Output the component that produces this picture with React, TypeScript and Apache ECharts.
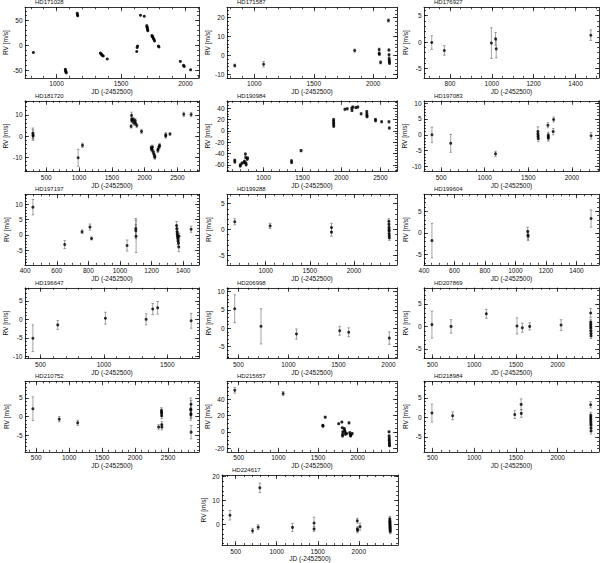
import React, { useEffect, useRef } from "react";
import * as echarts from "echarts";

// ---------- titles ----------
const TITLES = [
  "HD171028", "HD171587", "HD176927",
  "HD181720", "HD190984", "HD197083",
  "HD197197", "HD199288", "HD199604",
  "HD196647", "HD206998", "HD207869",
  "HD210752", "HD215657", "HD218984",
  "HD224617",
];

// ---------- data: [JD-2452500, RV (m/s), error (m/s)] ----------
const hd171028 = [
  [820, -14, 1], [1068, -48, 1], [1070, -51, 1], [1072, -53, 1], [1075, -55, 1],
  [1160, 65, 1], [1162, 62, 1], [1164, 60, 1], [1340, -15, 1], [1345, -17, 1],
  [1350, -18, 1], [1355, -20, 1], [1362, -21, 1], [1393, -27, 1], [1622, -12, 1],
  [1625, -4, 1], [1628, -1, 1], [1651, 61, 1], [1680, 59, 1], [1700, 40, 1],
  [1702, 37, 1], [1704, 35, 1], [1706, 32, 1], [1708, 30, 1], [1740, 20, 1],
  [1743, 18, 1], [1746, 17, 1], [1752, 14, 1], [1756, 12, 1], [1760, 9, 1],
  [1790, -1, 1], [1794, -3, 1], [1960, -32, 1], [1985, -40, 1], [1990, -42, 1],
  [2040, -49, 1],
];
const hd171587 = [
  [835, -5.5, 0.8], [1078, -4.8, 1.5], [1844, 2.5, 0.8], [2050, 3, 0.8], [2050, 1, 0.6],
  [2052, 0.5, 0.6], [2062, -3.8, 0.8], [2128, 18.5, 0.8], [2132, 2.8, 0.6], [2133, 0.2, 0.6],
  [2134, -1.8, 0.6], [2135, -2.8, 0.6], [2136, -3.5, 0.6], [2137, -4.3, 0.6],
];
const hd176927 = [
  [713, -0.1, 1.3], [773, -1.6, 0.9], [998, -0.2, 2.9], [1018, 0.6, 1.2], [1021, -1.3, 1.7],
  [1473, 1.3, 1.0],
];
const hd181720 = [
  [296, 1.3, 2.5], [298, 0.5, 2.5], [300, 0, 1.5], [986, -10.3, 4], [1052, -4.4, 1],
  [1793, 4.6, 0.8], [1800, 9.8, 1.5], [1802, 7.5, 1], [1806, 8, 1], [1814, 7.2, 1],
  [1830, 7.7, 1], [1836, 6.2, 1], [1855, 7.3, 1], [1860, 6, 1], [1880, 5, 1],
  [1952, 2.2, 1], [2100, -5.5, 1], [2105, -6, 1], [2110, -6.5, 1], [2120, -5.3, 1],
  [2131, -7.5, 1], [2140, -8.5, 1], [2151, -9.4, 1], [2155, -10, 1], [2200, -6.8, 1],
  [2207, -6, 1], [2222, -5, 1], [2228, -4.5, 1], [2320, 0, 1], [2322, 0.6, 1],
  [2386, 1, 0.6], [2596, 10.3, 1], [2708, 10.2, 1],
];
const hd190984 = [
  [629, -52, 2], [631, -55, 2], [700, -62, 2], [703, -60, 2], [723, -57, 2],
  [750, -56, 2], [753, -54, 2], [766, -41, 2], [770, -47, 2], [773, -57, 2],
  [776, -60, 2], [790, -50, 2], [795, -48, 2], [1358, -53, 2], [1360, -56, 2],
  [1481, -35, 2], [1899, 20, 2], [1899, 17, 2], [1900, 14, 2], [1900, 11, 2],
  [1901, 8, 2], [2044, 38, 2], [2074, 39, 2], [2133, 40, 2], [2135, 36, 2],
  [2146, 42, 2], [2184, 41, 2], [2210, 42, 2], [2252, 30, 2], [2325, 34, 2],
  [2326, 30, 2], [2327, 27, 2], [2328, 25, 2], [2436, 20, 2], [2438, 18, 2],
  [2516, 16, 2], [2610, 16, 2], [2614, 5, 2],
];
const hd197083 = [
  [395, 0, 2.4], [610, -2.7, 2.8], [1124, -6, 0.8], [1610, 1, 1.5], [1610, 0.2, 1],
  [1612, -0.5, 1], [1614, -1.2, 1], [1724, 3, 0.8], [1728, -0.2, 1], [1729, -0.6, 1],
  [1730, -1, 1], [1785, 1, 1], [1790, 4.8, 0.8], [2219, -0.3, 1],
];
const hd197197 = [
  [449, 9, 2.5], [650, -3.2, 1.3], [760, 1, 0.6], [810, 2.5, 1], [820, -1.2, 0.5],
  [1045, -3.5, 1.8], [1100, 2, 3.3], [1100, 1.3, 2], [1102, -0.5, 5.3], [1358, 3, 1.3],
  [1360, 2, 1], [1362, 1, 1], [1362, 0.3, 1], [1364, -0.2, 1], [1365, -0.7, 1],
  [1366, -1.2, 1], [1368, -2, 1], [1370, -2.8, 1], [1372, -4, 1.5], [1374, -0.5, 1],
  [1450, 1.8, 1],
];
const hd199288 = [
  [650, 1.5, 0.6], [1050, 0.7, 0.5], [1745, 0.4, 0.8], [1745, -0.5, 0.8], [2395, 1.6, 0.5],
  [2396, 1, 0.5], [2397, 0.4, 0.5], [2397, 0, 0.5], [2398, -0.3, 0.5], [2398, -0.8, 0.5],
  [2399, -1.2, 0.5], [2400, -1.6, 0.5],
];
const hd199604 = [
  [452, -1.8, 4], [1080, 0.3, 1], [1082, -0.5, 1], [1083, -0.8, 1], [1496, 3.3, 2],
];
const hd196647 = [
  [440, -5.1, 3.6], [636, -1.5, 1.2], [1012, 0.3, 1.6], [1333, 0, 1.5], [1385, 2.8, 1.5],
  [1424, 3.1, 1.7], [1688, -0.4, 2],
];
const hd206998 = [
  [463, 5.3, 3.8], [726, 0.5, 4.8], [1080, -1.6, 1.4], [1512, -0.7, 1.2], [1602, -1.1, 1.2],
  [2008, -2.7, 1.7],
];
const hd207869 = [
  [495, 0.4, 3], [724, 0, 1.5], [1146, 2.8, 1], [1513, 0.1, 1.8], [1577, -0.3, 1],
  [1665, 0, 0.8], [2041, 0.3, 1.2], [2395, 3, 1], [2396, 1, 0.6], [2396, 0.5, 0.6],
  [2397, 0, 0.6], [2397, -0.4, 0.6], [2398, -1, 0.6], [2399, -1.6, 0.6], [2400, -2.1, 0.6],
];
const hd210752 = [
  [449, 2.1, 3.2], [849, -0.7, 0.7], [1129, -1.7, 0.7], [2357, -2.8, 0.6], [2400, 1.6, 0.8],
  [2402, 1.2, 0.8], [2403, 0.8, 0.8], [2404, 0.2, 0.8], [2405, -2.2, 0.8], [2406, -2.8, 0.8],
  [2845, 2, 3], [2846, 1.8, 1.5], [2847, 0.8, 1], [2848, 0.5, 1], [2849, 3.3, 1],
  [2850, -4.2, 1.8],
];
const hd215657 = [
  [450, 51, 3.5], [1060, 47, 2.5], [1560, 8, 1], [1562, 7, 1], [1590, 18, 1],
  [1760, 10, 1], [1800, 12, 1], [1805, 5, 1], [1808, -5, 1], [1810, -3, 1],
  [1812, 0, 1], [1830, 4, 1], [1835, 2, 1], [1840, 0, 1], [1845, -3, 1],
  [1860, -2, 1], [1890, 11, 1], [1900, -1, 1], [1905, -3, 1], [1910, -5, 1],
  [1915, -4, 1], [1930, -2, 1], [2395, 0, 1], [2396, -5, 1], [2397, -8, 1],
  [2397, -10, 1], [2398, -12, 1], [2399, -14, 1], [2400, -16, 1], [2401, -17, 1],
];
const hd218984 = [
  [494, 1.1, 2.3], [742, 0.4, 1], [1486, 0.7, 1], [1562, 3.3, 1.4], [1564, 1, 1],
  [2395, 3.2, 0.8], [2396, 0.5, 0.8], [2396, 0, 0.8], [2397, -0.5, 0.8], [2397, -1, 0.8],
  [2398, -1.5, 0.8], [2399, -2, 0.8], [2399, -2.8, 0.8], [2400, -3.5, 0.8],
];
const hd224617 = [
  [430, 3.8, 2], [705, -2.7, 1], [774, -1.2, 1], [794, 15.3, 2], [1192, -1.3, 1.7],
  [1455, 0.5, 2.5], [1455, -2, 1], [1982, 1.5, 1], [1983, -2, 1], [1985, -2.5, 1],
  [2015, -1, 1.5], [2378, 2.3, 1], [2379, 1.5, 1], [2379, 1, 1], [2380, 0.5, 1],
  [2380, 0, 1], [2381, -0.5, 1], [2381, -1, 1], [2382, -1.5, 1], [2382, -2, 1],
  [2383, -2.5, 1], [2384, -3, 1],
];

const PANEL_DATA = [
  hd171028, hd171587, hd176927,
  hd181720, hd190984, hd197083,
  hd197197, hd199288, hd199604,
  hd196647, hd206998, hd207869,
  hd210752, hd215657, hd218984,
  hd224617,
];

// ---------- axis ranges and tick labels ----------
const X_RANGES = [
  [755, 2105], [770, 2200], [676, 1512],
  [176, 2828], [530, 2713], [304, 2310],
  [399, 1500], [562, 2487], [400, 1548],
  [378, 1750], [386, 2085], [400, 2495],
  [329, 2970], [352, 2495], [399, 2495],
  [333, 2478],
];
const Y_RANGES = [
  [-65, 77], [-12, 25.5], [-6.8, 6.6],
  [-16.7, 16.7], [-71.5, 53], [-11.5, 10.7],
  [-9.8, 13.2], [-6.8, 6.8], [-7.4, 8.9],
  [-10.5, 8.5], [-8.2, 11], [-7.1, 8.6],
  [-9.5, 9.5], [-24.5, 62], [-8.8, 9.2],
  [-8.7, 20.7],
];
const X_TICKS = [
  [1000, 1500, 2000], [1000, 1500, 2000], [800, 1000, 1200, 1400],
  [500, 1000, 1500, 2000, 2500], [1000, 1500, 2000, 2500], [500, 1000, 1500, 2000],
  [400, 600, 800, 1000, 1200, 1400], [1000, 1500, 2000], [400, 600, 800, 1000, 1200, 1400],
  [500, 1000, 1500], [500, 1000, 1500, 2000], [500, 1000, 1500, 2000],
  [500, 1000, 1500, 2000, 2500], [500, 1000, 1500, 2000], [500, 1000, 1500, 2000],
  [500, 1000, 1500, 2000],
];
const Y_TICKS = [
  [-50, 0, 50], [-10, 0, 10, 20], [-5, 0, 5],
  [-10, 0, 10], [-60, -40, -20, 0, 20, 40], [-10, -5, 0, 5, 10],
  [-5, 0, 5, 10], [-5, 0, 5], [-5, 0, 5],
  [-10, -5, 0, 5], [-5, 0, 5, 10], [-5, 0, 5],
  [-5, 0, 5], [-20, 0, 20, 40], [-5, 0, 5],
  [0, 10, 20],
];
const X_MINOR_STEP = [100, 100, 50, 100, 100, 100, 50, 100, 50, 100, 100, 100, 100, 100, 100, 100];
const Y_MINOR_STEP = [10, 2, 1, 2, 5, 1, 1, 1, 1, 1, 1, 1, 1, 5, 1, 2];

const X_NAME = "JD (-2452500)";
const Y_NAME = "RV [m/s]";

// ---------- layout ----------
const COL_LEFT = [25, 227, 424];
const COL_WIDTH = [174, 170, 175];
const FONT = "'Liberation Sans', Arial, sans-serif";

function boxOf(i: number) {
  if (i === 15) return { left: 222, top: 475, width: 176, height: 70 };
  const r = Math.floor(i / 3);
  const c = i % 3;
  return { left: COL_LEFT[c], top: 7.3 + 93.5 * r, width: COL_WIDTH[c], height: 70.5 };
}

function stepsIn(min: number, max: number, step: number) {
  const out: number[] = [];
  for (let k = Math.ceil(min / step); k * step <= max + 1e-9; k++) out.push(+(k * step).toFixed(6));
  return out;
}

function makeAxis(
  grid: number, pos: string, min: number, max: number, ticks: number[],
  len: number, labels: boolean, name: string, gap: number, line: boolean
) {
  return {
    type: "value",
    gridIndex: grid,
    position: pos,
    min,
    max,
    splitLine: { show: false },
    splitArea: { show: false },
    axisLine: { show: line, onZero: false, lineStyle: { color: "#000", width: 0.8 } },
    axisTick: {
      show: true,
      inside: true,
      length: len,
      customValues: ticks,
      lineStyle: { color: "#000", width: 0.7 },
    },
    axisLabel: labels
      ? {
          show: true, customValues: ticks, fontSize: 6.5, color: "#111", margin: 2.5,
          fontFamily: FONT, formatter: (v: number) => String(v),
        }
      : { show: false },
    name,
    nameLocation: "middle",
    nameGap: gap,
    nameTextStyle: { fontSize: 6.5, color: "#111", fontFamily: FONT },
  };
}

function buildOption() {
  const grid: any[] = [];
  const xAxis: any[] = [];
  const yAxis: any[] = [];
  const series: any[] = [];
  const title: any[] = [];

  PANEL_DATA.forEach((data, i) => {
    const b = boxOf(i);
    grid.push({
      left: b.left, top: b.top, width: b.width, height: b.height,
      show: false, containLabel: false, outerBoundsMode: "none",
    });
    title.push({
      text: TITLES[i], left: b.left + 10, top: b.top - 8, padding: 0,
      textStyle: { fontSize: 6, fontWeight: "normal", color: "#111", fontFamily: FONT },
    });
    const [x0, x1] = X_RANGES[i];
    const [y0, y1] = Y_RANGES[i];
    const xMinor = stepsIn(x0, x1, X_MINOR_STEP[i]);
    const yMinor = stepsIn(y0, y1, Y_MINOR_STEP[i]);
    xAxis.push(makeAxis(i, "bottom", x0, x1, X_TICKS[i], 4, true, X_NAME, 10, true));
    xAxis.push(makeAxis(i, "bottom", x0, x1, xMinor, 2, false, "", 0, false));
    xAxis.push(makeAxis(i, "top", x0, x1, X_TICKS[i], 4, false, "", 0, true));
    xAxis.push(makeAxis(i, "top", x0, x1, xMinor, 2, false, "", 0, false));
    yAxis.push(makeAxis(i, "left", y0, y1, Y_TICKS[i], 4, true, Y_NAME, 15, true));
    yAxis.push(makeAxis(i, "left", y0, y1, yMinor, 2, false, "", 0, false));
    yAxis.push(makeAxis(i, "right", y0, y1, Y_TICKS[i], 4, false, "", 0, true));
    yAxis.push(makeAxis(i, "right", y0, y1, yMinor, 2, false, "", 0, false));

    const ax = i * 4;
    series.push({
      type: "custom",
      xAxisIndex: ax,
      yAxisIndex: ax,
      data,
      encode: { x: 0, y: 1 },
      silent: true,
      clip: true,
      renderItem: (params: any, api: any) => {
        const x = api.value(0);
        const y = api.value(1);
        const e = api.value(2);
        const top = api.coord([x, y + e]);
        const bot = api.coord([x, y - e]);
        const cap = 1.3;
        const st = { stroke: "#666", lineWidth: 0.6 };
        return {
          type: "group",
          children: [
            { type: "line", shape: { x1: top[0], y1: top[1], x2: bot[0], y2: bot[1] }, style: st },
            { type: "line", shape: { x1: top[0] - cap, y1: top[1], x2: top[0] + cap, y2: top[1] }, style: st },
            { type: "line", shape: { x1: bot[0] - cap, y1: bot[1], x2: bot[0] + cap, y2: bot[1] }, style: st },
          ],
        };
      },
    });
    series.push({
      type: "scatter",
      xAxisIndex: ax,
      yAxisIndex: ax,
      data: data.map((d) => [d[0], d[1]]),
      symbol: "circle",
      symbolSize: 3,
      itemStyle: { color: "#000" },
      silent: true,
    });
  });

  return { animation: false, backgroundColor: "#fff", title, grid, xAxis, yAxis, series };
}

export default function App() {
  const ref = useRef<HTMLDivElement>(null);
  useEffect(() => {
    if (!ref.current) return;
    const chart = echarts.init(ref.current, undefined, { renderer: "svg" });
    chart.setOption(buildOption() as any);
    return () => chart.dispose();
  }, []);
  return (
    <div
      ref={ref}
      style={{ position: "fixed", left: 0, top: 0, width: 600, height: 563, background: "#fff" }}
    />
  );
}
